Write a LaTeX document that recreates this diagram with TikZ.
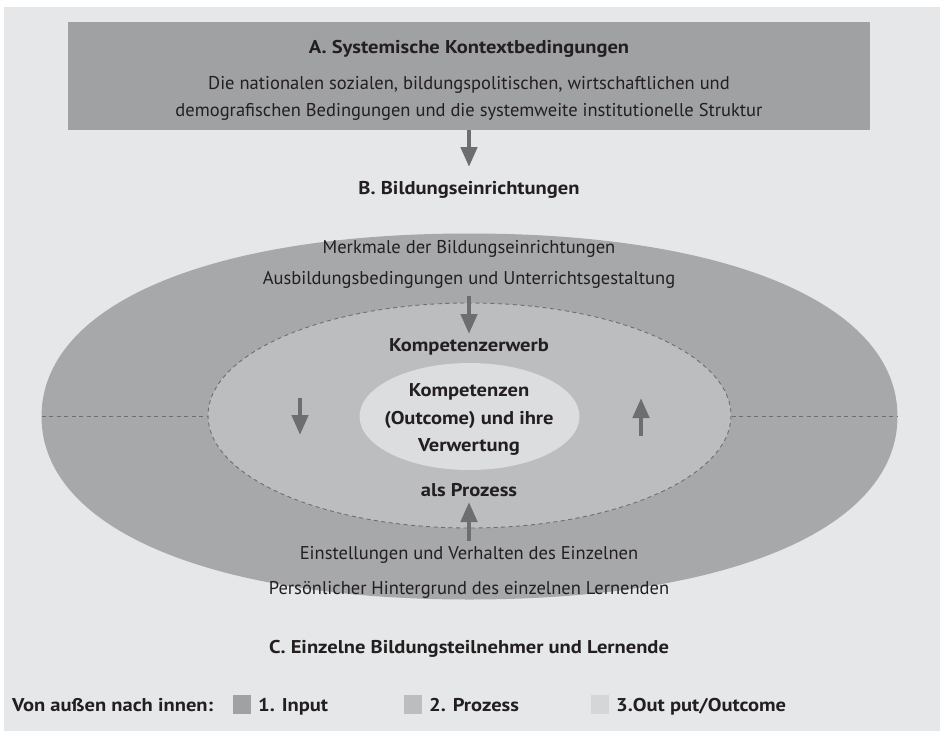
\documentclass[tikz,border=0pt]{standalone}
\usepackage{fontspec}
\setmainfont{PT Sans}[BoldFeatures={FakeStretch=1.11}]
\usetikzlibrary{arrows.meta}
\definecolor{bgc}{HTML}{E6E7E8}
\definecolor{boxc}{HTML}{A0A1A3}
\definecolor{outc}{HTML}{A7A8AA}
\definecolor{midc}{HTML}{BCBDBF}
\definecolor{inc}{HTML}{DCDDDF}
\definecolor{legc}{HTML}{D5D6D8}
\definecolor{arrc}{HTML}{6D6E70}
\definecolor{txtc}{HTML}{231F20}
\tikzset{
  txt/.style={text=txtc, inner sep=0pt, font=\fontsize{18.5}{20}\selectfont, anchor=base},
  btxt/.style={txt, font=\fontsize{18.5}{20}\selectfont\bfseries},
  bigarrow/.style={draw=arrc, line width=4.5pt, -{Triangle[length=20pt,width=16pt]}},
  dline/.style={draw=arrc, line width=0.9pt, dash pattern=on 4pt off 3.5pt},
  legsq/.style={minimum width=18pt, minimum height=19pt, inner sep=0pt, anchor=west}
}
\begin{document}
\begin{tikzpicture}[x=1pt,y=-1pt]
\useasboundingbox (0,0) rectangle (940,731);
\fill[white] (0,0) rectangle (940,731);
\fill[bgc] (4,7) rectangle (940,731);
% top box
\node[fill=boxc, minimum width=802pt, minimum height=108pt, inner sep=0pt] (boxA) at (469,76) {};
\node[btxt] (tA) at (469,53.5) {A. Systemische Kontextbedingungen};
\node[txt] (tA2) at (469,89.5) {Die nationalen sozialen, bildungspolitischen, wirtschaftlichen und};
\node[txt] (tA3) at (469,116.5) {demografischen Bedingungen und die systemweite institutionelle Struktur};
\node[btxt] (tB) at (469,194.5) {B. Bildungseinrichtungen};
% outer (slightly full) ellipse: centre (469.5,416.5), rx 428, ry 183, k=0.61
\fill[outc] (897.5,416.5)
  .. controls (897.5,304.9) and (730.6,233.5) .. (469.5,233.5)
  .. controls (208.4,233.5) and (41.5,304.9) .. (41.5,416.5)
  .. controls (41.5,528.1) and (208.4,599.5) .. (469.5,599.5)
  .. controls (730.6,599.5) and (897.5,528.1) .. (897.5,416.5) -- cycle;
\coordinate (oL) at (41.5,416.5);
\coordinate (oR) at (897.5,416.5);
\draw[dline] (oL) -- (oR);
\fill[midc] (469.5,415.5) ellipse [x radius=261.5, y radius=112.5];
\draw[dline] (469.5,415.5) ellipse [x radius=261.5, y radius=112.5];
\fill[inc] (469.5,416.5) ellipse [x radius=110, y radius=53.5];
% texts inside
\node[txt] (tM1) at (469,253.5) {Merkmale der Bildungseinrichtungen};
\node[txt] (tM2) at (469,284.5) {Ausbildungsbedingungen und Unterrichtsgestaltung};
\node[btxt] (tK) at (469,351.5) {Kompetenzerwerb};
\node[btxt] (tC1) at (469,396.5) {Kompetenzen};
\node[btxt] (tC2) at (469,424) {(Outcome) und ihre};
\node[btxt] (tC3) at (469,451.5) {Verwertung};
\node[btxt] (tP) at (469,496.5) {als Prozess};
\node[txt] (tE1) at (469,559.5) {Einstellungen und Verhalten des Einzelnen};
\node[txt] (tE2) at (469,594.5) {Persönlicher Hintergrund des einzelnen Lernenden};
\node[btxt] (tCC) at (469,653.5) {C. Einzelne Bildungsteilnehmer und Lernende};
% arrows
\coordinate (a1s) at (469,130); \coordinate (a1e) at (469,167);
\draw[bigarrow] (a1s) -- (a1e);
\coordinate (a2s) at (469,296); \coordinate (a2e) at (469,334);
\draw[bigarrow] (a2s) -- (a2e);
\coordinate (a3s) at (300,398); \coordinate (a3e) at (300,435);
\draw[bigarrow] (a3s) -- (a3e);
\coordinate (a4s) at (641,436); \coordinate (a4e) at (641,398);
\draw[bigarrow] (a4s) -- (a4e);
\coordinate (a5s) at (469,541); \coordinate (a5e) at (469,502);
\draw[bigarrow] (a5s) -- (a5e);
% legend
\node[btxt, anchor=base west] (lg) at (12,711.5) {Von außen nach innen:};
\node[legsq, fill=boxc] (s1) at (233,704.5) {};
\node[btxt, anchor=base west] (l1) at (258,711.5) {1. Input};
\node[legsq, fill=midc] (s2) at (404,704.5) {};
\node[btxt, anchor=base west] (l2) at (429,711.5) {2. Prozess};
\node[legsq, fill=legc] (s3) at (591,704.5) {};
\node[btxt, anchor=base west] (l3) at (616,711.5) {3.Out put/Outcome};
\end{tikzpicture}
\end{document}
